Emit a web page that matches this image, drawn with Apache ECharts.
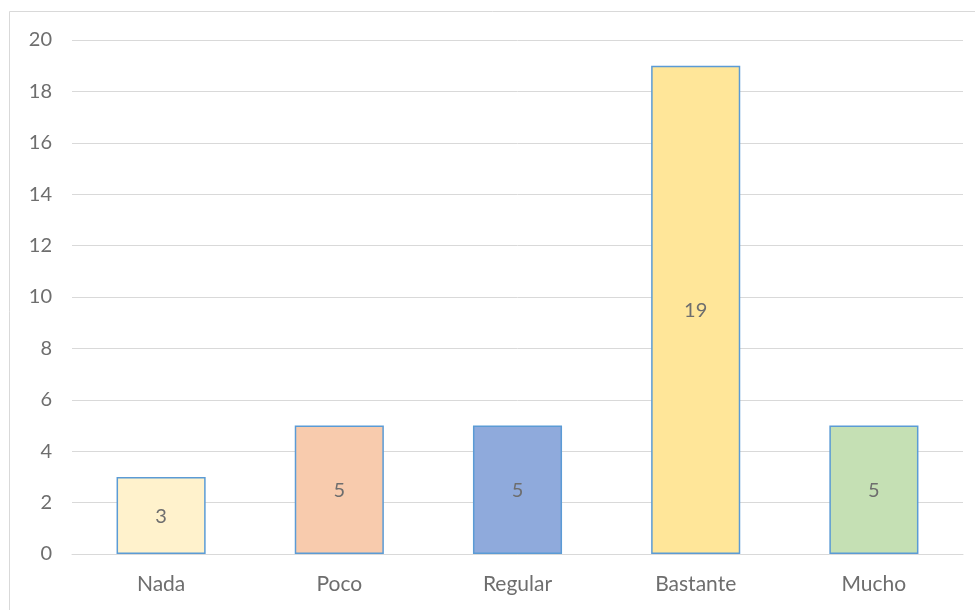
<!DOCTYPE html>
<html>
<head>
<meta charset="utf-8">
<script src="https://cdn.jsdelivr.net/npm/echarts@6/dist/echarts.min.js"></script>
<style>
html, body { margin: 0; padding: 0; background: #fff; }
#chart { width: 975px; height: 610px; }
</style>
</head>
<body>
<div id="chart"></div>
<script>
// categorias y valores
var categories = ['Nada', 'Poco', 'Regular', 'Bastante', 'Mucho'];
var values = [3, 5, 5, 19, 5];
var barColors = ['#FFF2CC', '#F8CBAD', '#8FAADC', '#FFE699', '#C5E0B4'];

var myChart = echarts.init(document.getElementById('chart'));

var seriesData = [];
for (var i = 0; i < values.length; i++) {
	seriesData.push({
		value: values[i],
		itemStyle: { color: barColors[i] }
	});
}

var option = {
	animation: false,
	textStyle: { fontFamily: 'Lato' },
	// marco exterior
	graphic: [{
		type: 'rect',
		shape: { x: 9.5, y: 11.5, width: 1000, height: 1000 },
		style: { fill: 'none', stroke: '#D9D9D9', lineWidth: 1 },
		silent: true
	}],
	grid: {
		top: 40,
		bottom: 56,
		left: 72,
		right: 12
	},
	xAxis: {
		type: 'category',
		data: categories,
		axisLine: { lineStyle: { color: '#D9D9D9', width: 1 } },
		axisTick: { show: false },
		axisLabel: { color: '#6E6E6E', fontSize: 21, margin: 20 }
	},
	yAxis: {
		type: 'value',
		min: 0,
		max: 20,
		interval: 2,
		axisLine: { show: false },
		axisTick: { show: false },
		axisLabel: { color: '#6E6E6E', fontSize: 20, margin: 20 },
		splitLine: { lineStyle: { color: '#D9D9D9', width: 1 } }
	},
	series: [{
		type: 'bar',
		barWidth: '50%',
		data: seriesData,
		itemStyle: { borderColor: '#5B9BD5', borderWidth: 1.5 },
		label: {
			show: true,
			position: 'inside',
			offset: [0, 1],
			color: '#6E6E6E',
			fontSize: 20
		}
	}]
};
myChart.setOption(option);
</script>
</body>
</html>
